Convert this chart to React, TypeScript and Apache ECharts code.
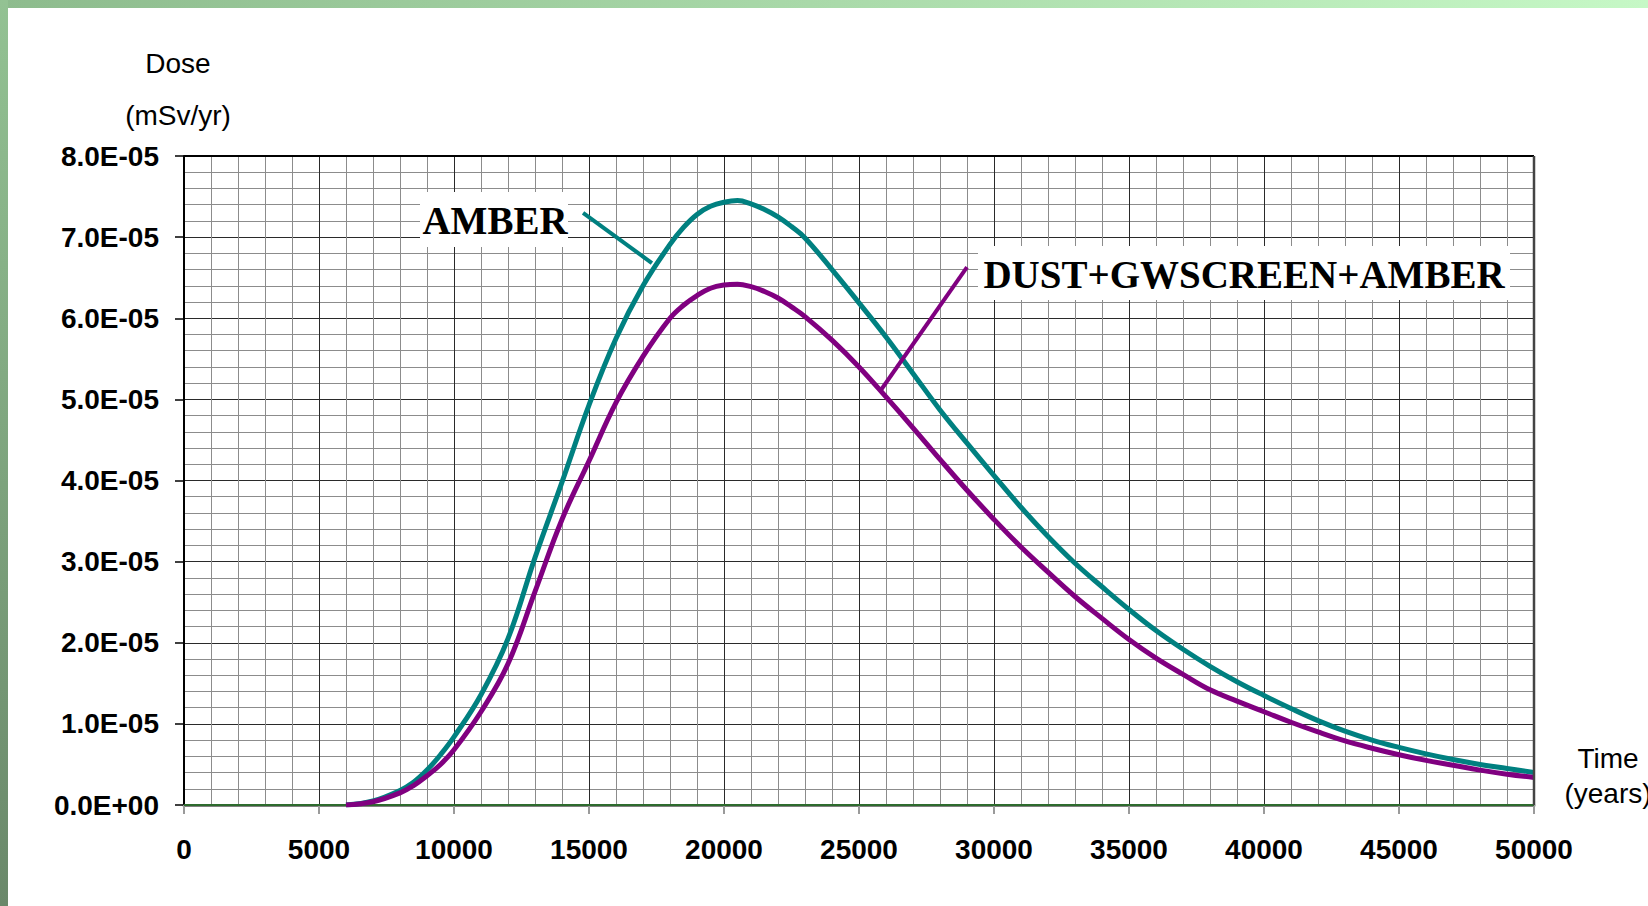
import React, { useEffect, useRef } from "react";
import * as echarts from "echarts";

const years = [
  6000, 7000, 8000, 8500, 9000, 9500, 10000, 11000, 12000, 13000, 14000, 15000,
  16000, 17000, 18000, 18500, 19000, 19500, 20000, 20500, 21000, 21500, 22000, 22500,
  23000, 24000, 25000, 26000, 27000, 28000, 29000, 30000, 31000, 32000, 33000,
  34000, 35000, 36000, 37000, 38000, 39000, 40000, 41000, 42000, 43000, 44000,
  45000, 46000, 47000, 48000, 49000, 50000,
];

// Dose in units of 1E-05 mSv/yr
const amber = [
  0.0, 0.05, 0.18, 0.28, 0.43, 0.62, 0.84, 1.36, 2.05, 3.05, 3.98, 4.93,
  5.75, 6.4, 6.91, 7.12, 7.28, 7.38, 7.43, 7.45, 7.41, 7.34, 7.25, 7.13,
  6.99, 6.6, 6.19, 5.77, 5.32, 4.87, 4.46, 4.06, 3.67, 3.31, 2.98,
  2.69, 2.41, 2.15, 1.92, 1.71, 1.52, 1.35, 1.19, 1.04, 0.91, 0.8,
  0.71, 0.63, 0.56, 0.5, 0.45, 0.4,
];

const dustGwAmber = [
  0.0, 0.04, 0.15, 0.24, 0.36, 0.5, 0.68, 1.15, 1.74, 2.63, 3.52, 4.24,
  4.96, 5.53, 6.0, 6.16, 6.28, 6.37, 6.41, 6.42, 6.39, 6.33, 6.25, 6.14,
  6.02, 5.73, 5.4, 5.03, 4.65, 4.26, 3.88, 3.52, 3.18, 2.87, 2.57,
  2.3, 2.04, 1.81, 1.61, 1.42, 1.28, 1.15, 1.02, 0.9, 0.79, 0.7,
  0.62, 0.55, 0.49, 0.43, 0.38, 0.34,
];

const baselineYears = [0, 50000];
const baselineValues = [0, 0];

const UNIT = 1e-5;

// annotation leader lines, in data coordinates [year, dose(E-05)]
const amberLeader = [[14780, 7.3], [17330, 6.68]];
const dustLeader = [[29000, 6.63], [25780, 5.1]];

const labelAmber = "AMBER";
const labelDust = "DUST+GWSCREEN+AMBER";

function sci(v: number): string {
  const s = Math.abs(v) < 1e-12 ? "0.0e+0" : v.toExponential(1);
  const [m, ex] = s.split("e");
  const n = parseInt(ex, 10);
  const sign = n < 0 ? "-" : "+";
  return `${m}E${sign}${String(Math.abs(n)).padStart(2, "0")}`;
}

export default function App() {
  const ref = useRef<HTMLDivElement>(null);

  useEffect(() => {
    if (!ref.current) return;
    const chart = echarts.init(ref.current, undefined, { renderer: "svg" });

    const L = 184, T = 156, R = 1534, B = 805;
    const sans = "'Liberation Sans', Arial, sans-serif";
    const serif = "'Liberation Serif', 'Times New Roman', serif";

    const toPairs = (vals: number[]) => years.map((y, i) => [y, vals[i] * UNIT]);
    const leader = (pts: number[][]) => [
      [
        { coord: [pts[0][0], pts[0][1] * UNIT] },
        { coord: [pts[1][0], pts[1][1] * UNIT] },
      ],
    ];

    const option: any = {
      animation: false,
      backgroundColor: "#ffffff",
      grid: { left: L, top: T, right: 1648 - R, bottom: 906 - B, show: false },
      xAxis: {
        type: "value",
        min: 0,
        max: 50000,
        interval: 5000,
        axisLine: { show: true, lineStyle: { color: "#808080", width: 3 } },
        axisTick: { show: true, length: 9, lineStyle: { color: "#9a9a9a", width: 2 } },
        axisLabel: {
          margin: 30,
          fontSize: 28,
          fontWeight: "bold",
          fontFamily: sans,
          color: "#000",
          formatter: (v: number) => String(Math.round(v)),
        },
        splitLine: { show: true, lineStyle: { color: "#2a2a2a", width: 1 } },
        minorTick: { show: false, splitNumber: 5 },
        minorSplitLine: { show: true, lineStyle: { color: "#8c8c8c", width: 1 } },
      },
      yAxis: {
        type: "value",
        min: 0,
        max: 8e-5,
        interval: 1e-5,
        axisLine: { show: true, lineStyle: { color: "#000", width: 2 } },
        axisTick: { show: true, length: 9, lineStyle: { color: "#000", width: 1.5 } },
        axisLabel: {
          margin: 25,
          fontSize: 28,
          fontWeight: "bold",
          fontFamily: sans,
          color: "#000",
          formatter: (v: number) => sci(v),
        },
        splitLine: { show: true, lineStyle: { color: "#2a2a2a", width: 1 } },
        minorTick: { show: false, splitNumber: 5 },
        minorSplitLine: { show: true, lineStyle: { color: "#8c8c8c", width: 1 } },
      },
      series: [
        {
          name: "AMBER",
          type: "line",
          data: toPairs(amber),
          showSymbol: false,
          smooth: 0.4,
          lineStyle: { color: "#008080", width: 5 },
          itemStyle: { color: "#008080" },
          z: 3,
          markLine: {
            silent: true,
            symbol: ["none", "none"],
            label: { show: false },
            lineStyle: { color: "#008080", width: 4, type: "solid" },
            data: leader(amberLeader),
          },
        },
        {
          name: "DUST+GWSCREEN+AMBER",
          type: "line",
          data: toPairs(dustGwAmber),
          showSymbol: false,
          smooth: 0.4,
          lineStyle: { color: "#800080", width: 5 },
          itemStyle: { color: "#800080" },
          z: 4,
          markLine: {
            silent: true,
            symbol: ["none", "none"],
            label: { show: false },
            lineStyle: { color: "#800080", width: 4, type: "solid" },
            data: leader(dustLeader),
          },
        },
        {
          name: "baseline",
          type: "line",
          data: baselineYears.map((y, i) => [y, baselineValues[i]]),
          showSymbol: false,
          lineStyle: { color: "#2e6b2e", width: 2 },
          z: 2,
        },
      ],
      graphic: [
        {
          type: "rect",
          shape: { x: 0, y: 0, width: 1648, height: 8 },
          style: {
            fill: new echarts.graphic.LinearGradient(0, 0, 1, 0, [
              { offset: 0, color: "#8dbb8d" },
              { offset: 1, color: "#c6f8c6" },
            ]),
          },
          z: 100,
        },
        {
          type: "rect",
          shape: { x: 0, y: 0, width: 8, height: 906 },
          style: {
            fill: new echarts.graphic.LinearGradient(0, 0, 0, 1, [
              { offset: 0, color: "#93c293" },
              { offset: 1, color: "#6a886a" },
            ]),
          },
          z: 100,
        },
        {
          type: "line",
          shape: { x1: L, y1: T, x2: R, y2: T },
          style: { stroke: "#000", lineWidth: 2 },
          z: 50,
        },
        {
          type: "line",
          shape: { x1: R, y1: T, x2: R, y2: B },
          style: { stroke: "#444", lineWidth: 2.5 },
          z: 50,
        },
        {
          type: "text",
          x: 178,
          y: 63,
          style: { text: "Dose", font: `28px ${sans}`, fill: "#000", align: "center", verticalAlign: "middle" },
          z: 60,
        },
        {
          type: "text",
          x: 178,
          y: 115,
          style: { text: "(mSv/yr)", font: `28px ${sans}`, fill: "#000", align: "center", verticalAlign: "middle" },
          z: 60,
        },
        {
          type: "text",
          x: 1608,
          y: 758,
          style: { text: "Time", font: `28px ${sans}`, fill: "#000", align: "center", verticalAlign: "middle" },
          z: 60,
        },
        {
          type: "text",
          x: 1608,
          y: 793,
          style: { text: "(years)", font: `28px ${sans}`, fill: "#000", align: "center", verticalAlign: "middle" },
          z: 60,
        },
        {
          type: "rect",
          shape: { x: 420, y: 192, width: 148, height: 55 },
          style: { fill: "#ffffff" },
          z: 60,
        },
        {
          type: "text",
          x: 495,
          y: 220,
          style: { text: labelAmber, font: `bold 39px ${serif}`, fill: "#000", align: "center", verticalAlign: "middle" },
          z: 61,
        },
        {
          type: "rect",
          shape: { x: 978, y: 246, width: 532, height: 54 },
          style: { fill: "#ffffff" },
          z: 60,
        },
        {
          type: "text",
          x: 1244,
          y: 274,
          style: { text: labelDust, font: `bold 39px ${serif}`, fill: "#000", align: "center", verticalAlign: "middle" },
          z: 61,
        },
      ],
    };

    chart.setOption(option);
    return () => chart.dispose();
  }, []);

  return (
    <div
      ref={ref}
      style={{ position: "fixed", left: 0, top: 0, width: 1648, height: 906, background: "#fff" }}
    />
  );
}
